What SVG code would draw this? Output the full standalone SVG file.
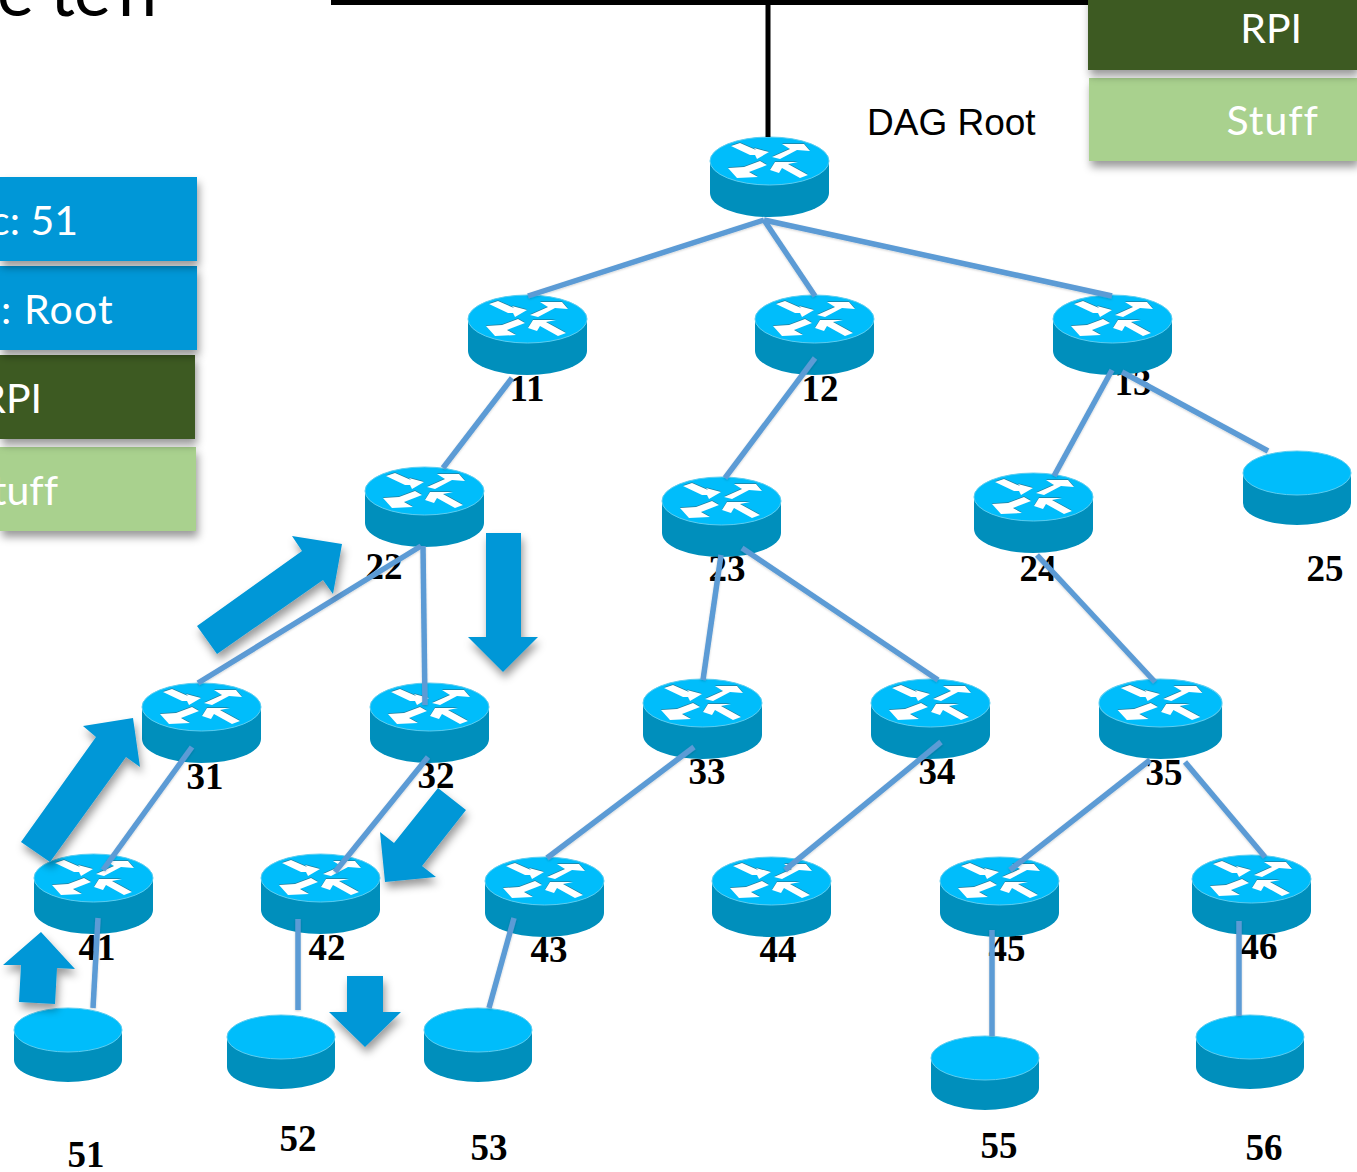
<svg xmlns="http://www.w3.org/2000/svg" xmlns:xlink="http://www.w3.org/1999/xlink" width="1357" height="1172" viewBox="0 0 1357 1172">
<style>
.lbl{font-family:"Liberation Serif","Times New Roman",serif;font-weight:bold;font-size:37px;fill:#000;text-anchor:middle}
.box{font-family:Lato,"Liberation Sans",sans-serif;font-size:41px;fill:#fff;text-anchor:end;font-variant-ligatures:none}
.conn{stroke:#5b9bd5;stroke-width:5.5;fill:none}
.arr{fill:#0097d7;filter:url(#sh)}
.body{fill:#008fbc}
.top{fill:#00bdfb;stroke:#5ccdf0;stroke-width:1}
.w{fill:#fff}
.d{fill:#3a4a50;opacity:.55}
</style>
<defs>
<filter id="sh" x="-30%" y="-30%" width="160%" height="160%"><feDropShadow dx="2" dy="6" stdDeviation="4" flood-color="#000" flood-opacity=".4"/></filter>
<filter id="ls" filterUnits="userSpaceOnUse" x="0" y="0" width="1357" height="1172"><feDropShadow dx="0" dy="1" stdDeviation="1" flood-color="#000" flood-opacity=".18"/></filter>
<g id="arrows4">
<polygon points="21,9 30,6 46,13 44,11 59,15 47,22 45,18 40,18"/>
<polygon points="62,20 80,12 72,7 94,7 100,14 87,13 70,22"/>
<polygon points="50,24 57,28 39,35 48,40 27,41 18,31 34,30"/>
<polygon points="60,33 65,25 88,25 78,27 98,38 90,41 72,31 69,36"/>
</g>
<g id="router">
<path class="body" d="M0,24 V56 A59.5,24 0 0 0 119,56 V24 Z"/>
<ellipse class="top" cx="59.5" cy="24" rx="59.5" ry="24"/>
<use xlink:href="#arrows4" href="#arrows4" class="d" y="-0.7"/>
<use xlink:href="#arrows4" href="#arrows4" class="w"/>
</g>
<g id="host">
<path class="body" d="M0,22 V52 A54,22 0 0 0 108,52 V22 Z"/>
<ellipse class="top" cx="54" cy="22" rx="54" ry="22"/>
</g>
</defs>
<rect width="1357" height="1172" fill="#fff"/>

<g id="title"><text x="-3 50 74 118" y="16" font-family="Lato,'Liberation Sans',sans-serif" font-size="70" fill="#000">eten</text></g>
<g id="bus"><rect x="331" y="0" width="757" height="5" fill="#000"/></g>

<g id="panel-left">
<rect x="0" y="447" width="196" height="84" fill="#a9d18e" filter="url(#sh)"/>
<rect x="0" y="355" width="195" height="84" fill="#3c5a24" filter="url(#sh)"/>
<rect x="0" y="266" width="197" height="84" fill="#0097d7" filter="url(#sh)"/>
<rect x="0" y="177" width="197" height="84" fill="#0097d7" filter="url(#sh)"/>
<text class="box" x="78" y="235">c: 51</text>
<text class="box" x="114" y="324" letter-spacing="1.2">: Root</text>
<text class="box" x="42" y="413">RPI</text>
<text class="box" x="58" y="505">tuff</text>
</g>
<g id="panel-right">
<rect x="1089" y="78" width="268" height="83" fill="#a9d18e" filter="url(#sh)"/>
<rect x="1088" y="-10" width="269" height="80" fill="#3c5a24" filter="url(#sh)"/>
<text class="box" x="1302" y="43">RPI</text>
<text class="box" x="1319" y="135" letter-spacing="1">Stuff</text>
</g>

<g id="dag-root-label"><text x="867" y="135" font-family="'Liberation Sans',Arial,sans-serif" font-size="37" fill="#000">DAG Root</text></g>

<g id="node-root"><use href="#router" xlink:href="#router" x="710" y="137"/></g>
<g id="node-11"><text class="lbl" x="527" y="401">11</text><use href="#router" xlink:href="#router" x="468" y="295"/></g>
<g id="node-12"><text class="lbl" x="820" y="401">12</text><use href="#router" xlink:href="#router" x="755" y="295"/></g>
<g id="node-13"><text class="lbl" x="1133" y="395">13</text><use href="#router" xlink:href="#router" x="1053" y="295"/></g>
<g id="node-22"><text class="lbl" x="384" y="579">22</text><use href="#router" xlink:href="#router" x="365" y="467"/></g>
<g id="node-23"><text class="lbl" x="727" y="581">23</text><use href="#router" xlink:href="#router" x="662" y="477"/></g>
<g id="node-24"><text class="lbl" x="1038" y="581">24</text><use href="#router" xlink:href="#router" x="974" y="473"/></g>
<g id="node-25"><text class="lbl" x="1325" y="581">25</text><use href="#host" xlink:href="#host" x="1243" y="451"/></g>
<g id="node-31"><text class="lbl" x="205" y="789">31</text><use href="#router" xlink:href="#router" x="142" y="683"/></g>
<g id="node-32"><text class="lbl" x="436" y="788">32</text><use href="#router" xlink:href="#router" x="370" y="683"/></g>
<g id="node-33"><text class="lbl" x="707" y="784">33</text><use href="#router" xlink:href="#router" x="643" y="679"/></g>
<g id="node-34"><text class="lbl" x="937" y="784">34</text><use href="#router" xlink:href="#router" x="871" y="679"/></g>
<g id="node-35"><text class="lbl" x="1164" y="785">35</text><use href="#router" xlink:href="#router" transform="translate(1099,679) scale(1.034,1)"/></g>
<g id="node-41"><text class="lbl" x="97" y="960">41</text><use href="#router" xlink:href="#router" x="34" y="854"/></g>
<g id="node-42"><text class="lbl" x="327" y="960">42</text><use href="#router" xlink:href="#router" x="261" y="854"/></g>
<g id="node-43"><text class="lbl" x="549" y="962">43</text><use href="#router" xlink:href="#router" x="485" y="857"/></g>
<g id="node-44"><text class="lbl" x="778" y="962">44</text><use href="#router" xlink:href="#router" x="712" y="857"/></g>
<g id="node-45"><text class="lbl" x="1007" y="961">45</text><use href="#router" xlink:href="#router" x="940" y="857"/></g>
<g id="node-46"><text class="lbl" x="1259" y="959">46</text><use href="#router" xlink:href="#router" x="1192" y="855"/></g>
<g id="node-51"><text class="lbl" x="86" y="1167">51</text><use href="#host" xlink:href="#host" x="14" y="1008"/></g>
<g id="node-52"><text class="lbl" x="298" y="1151">52</text><use href="#host" xlink:href="#host" x="227" y="1015"/></g>
<g id="node-53"><text class="lbl" x="489" y="1160">53</text><use href="#host" xlink:href="#host" x="424" y="1008"/></g>
<g id="node-55"><text class="lbl" x="999" y="1158">55</text><use href="#host" xlink:href="#host" x="931" y="1036"/></g>
<g id="node-56"><text class="lbl" x="1264" y="1160">56</text><use href="#host" xlink:href="#host" x="1196" y="1015"/></g>

<g id="connectors">
<path d="M768,3 V137" stroke="#000" stroke-width="5" fill="none"/>
<g filter="url(#ls)">
<path class="conn" d="M764,220 L528,296"/>
<path class="conn" d="M764,220 L815,296"/>
<path class="conn" d="M764,220 L1112,296"/>
<path class="conn" d="M512,378 L443,468"/>
<path class="conn" d="M815,358 L725,478"/>
<path class="conn" d="M1112,370 L1054,476"/>
<path class="conn" d="M1122,372 L1268,451"/>
<path class="conn" d="M421,546 L198,683"/>
<path class="conn" d="M423,546 L425,705"/>
<path class="conn" d="M721,555 L703,680"/>
<path class="conn" d="M742,548 L938,680"/>
<path class="conn" d="M1037,555 L1155,682"/>
<path class="conn" d="M192,747 L103,870"/>
<path class="conn" d="M428,757 L335,872"/>
<path class="conn" d="M694,747 L547,858"/>
<path class="conn" d="M941,742 L785,870"/>
<path class="conn" d="M1150,760 L1010,870"/>
<path class="conn" d="M1185,762 L1265,857"/>
<path class="conn" d="M98,918 L93,1008"/>
<path class="conn" d="M298,919 L298,1010"/>
<path class="conn" d="M514,918 L489,1008"/>
<path class="conn" d="M992,930 L992,1036"/>
<path class="conn" d="M1239,921 L1239,1016"/>
</g>
</g>

<g id="flow-arrows">
<polygon class="arr" points="197,626 302,551 292,536 342,544 333,594 323,580 217,654"/>
<polygon class="arr" points="486,533 521,533 521,637 538,637 503,672 468,637 486,637"/>
<polygon class="arr" points="21,842 96,737 83,726 133,718 140,767 126,757 50,862"/>
<polygon class="arr" points="438,788 466,810 422,866 436,877 385,882 380,832 394,843"/>
<polygon class="arr" points="41,932 75,969 57,968 55,1004 19,1002 21,965 3,965"/>
<polygon class="arr" points="347,976 383,976 383,1012 401,1012 365,1047 329,1012 347,1012"/>
</g>
</svg>
